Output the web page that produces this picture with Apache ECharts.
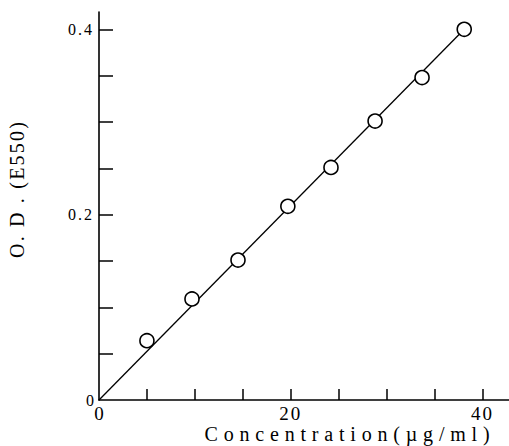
<!DOCTYPE html>
<html>
<head>
<meta charset="utf-8">
<script src="https://cdn.jsdelivr.net/npm/echarts@6/dist/echarts.min.js"></script>
<style>
  html, body { margin: 0; padding: 0; background: #fff; }
  #chart { width: 509px; height: 446px; }
</style>
</head>
<body>
<div id="chart"></div>
<script>
// ---- data ----
const concentration = [5.0, 9.7, 14.5, 19.7, 24.2, 28.8, 33.7, 38.1];
const od = [0.064, 0.109, 0.151, 0.209, 0.251, 0.301, 0.348, 0.400];
const fitLine = [[0, 0], [38.1, 0.400]];
const xTickValues = [5, 10, 15, 20, 25, 30, 35, 40];
const xLabelValues = [0, 20, 40];
const yTickValues = [0.05, 0.1, 0.15, 0.2, 0.25, 0.3, 0.35, 0.4];
const yLabelValues = [0, 0.2, 0.4];
const xTitle = 'Concentration(µg/ml)';
const yTitle = 'O. D . (E550)';

const FONT = "'Liberation Serif', 'DejaVu Serif', serif";
const dom = document.getElementById('chart');
const chart = echarts.init(dom, null, { renderer: 'svg' });

const option = {
  animation: false,
  backgroundColor: '#ffffff',
  grid: { left: 99, top: 12, width: 410, height: 388, containLabel: false },
  xAxis: {
    type: 'value',
    min: 0,
    max: 42.77,
    axisLine: { show: true, onZero: false, lineStyle: { color: '#000', width: 1.6 } },
    axisTick: { show: true, inside: true, length: 11, customValues: xTickValues, lineStyle: { color: '#000', width: 1.5 } },
    axisLabel: {
      customValues: xLabelValues,
      margin: 4,
      color: '#000',
      fontFamily: FONT,
      fontSize: 19,
      formatter: v => String(v)
    },
    splitLine: { show: false }
  },
  yAxis: {
    type: 'value',
    min: 0,
    max: 0.4187,
    axisLine: { show: true, onZero: false, lineStyle: { color: '#000', width: 1.6 } },
    axisTick: { show: true, inside: true, length: 14, customValues: yTickValues, lineStyle: { color: '#000', width: 1.5 } },
    axisLabel: {
      customValues: yLabelValues,
      margin: 5,
      color: '#000',
      fontFamily: FONT,
      fontSize: 16,
      formatter: v => (v === 0 ? '0' : v.toFixed(1))
    },
    splitLine: { show: false }
  },
  graphic: [
    {
      type: 'text',
      x: 350, y: 434,
      style: { text: xTitle, fill: '#000', font: "20px " + FONT, textAlign: 'center', textVerticalAlign: 'middle' }
    },
    {
      type: 'text',
      x: 17, y: 189,
      rotation: Math.PI / 2,
      style: { text: yTitle, fill: '#000', font: "20px " + FONT, textAlign: 'center', textVerticalAlign: 'middle' }
    }
  ],
  series: [
    {
      type: 'line',
      data: fitLine,
      symbol: 'none',
      lineStyle: { color: '#000', width: 1.3 },
      z: 2,
      silent: true
    },
    {
      type: 'scatter',
      data: concentration.map((c, i) => [c, od[i]]),
      symbol: 'circle',
      symbolSize: 14,
      itemStyle: { color: '#fff', borderColor: '#000', borderWidth: 1.6, opacity: 1 },
      z: 3,
      silent: true
    }
  ]
};
chart.setOption(option);

function applySpacing() {
  const spacing = {};
  spacing[xTitle] = 5.8;
  spacing[yTitle] = 2.2;
  spacing['20'] = 2;
  spacing['40'] = 2;
  spacing['0.2'] = 2;
  spacing['0.4'] = 2;
  dom.querySelectorAll('text').forEach(t => {
    const s = t.textContent;
    if (spacing[s] !== undefined) t.setAttribute('letter-spacing', spacing[s] + 'px');
  });
}
applySpacing();
chart.on('finished', applySpacing);
setTimeout(applySpacing, 50);
</script>
</body>
</html>
